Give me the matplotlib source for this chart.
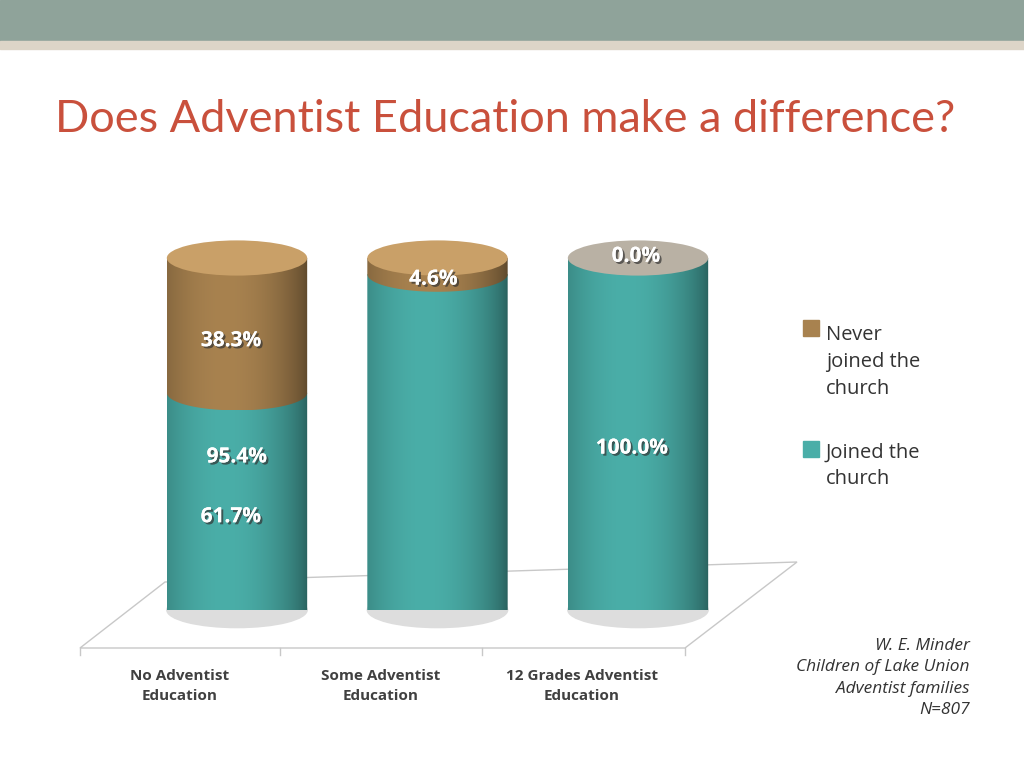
import numpy as np
import matplotlib
matplotlib.use("Agg")
import matplotlib.pyplot as plt
from matplotlib.patches import Ellipse, Rectangle, Polygon
import matplotlib.patheffects as pe

categories = ["No Adventist\nEducation", "Some Adventist\nEducation", "12 Grades Adventist\nEducation"]
joined = [61.7, 95.4, 100.0]
never = [38.3, 4.6, 0.0]
series_names = ["Never\njoined the\nchurch", "Joined the\nchurch"]

TEAL = "#4aaea8"
TEAL_TOP = "#7cc7c1"
BROWN = "#a8824f"
BROWN_TOP = "#c9a068"
FONT = "Open Sans"

fig = plt.figure(figsize=(10.24, 7.68), dpi=100, facecolor="white")

# background decoration in pixel coords
bg = fig.add_axes([0, 0, 1, 1])
bg.set_xlim(0, 1024); bg.set_ylim(768, 0); bg.axis("off")
bg.add_patch(Rectangle((0, 0), 1024, 41, color="#8fa39a"))
bg.add_patch(Rectangle((0, 41), 1024, 8, color="#ddd5c8"))
bg.text(55, 120, "Does Adventist Education make a difference?", color="#c9503c",
        fontsize=32.5, family="Lato", va="center")
# floor
bg.add_patch(Polygon([(80, 648), (685, 648), (797, 562), (165, 582)], closed=True,
                     facecolor="white", edgecolor="#c8c8c8", lw=1))
for x in [80, 280, 482, 685]:
    bg.plot([x, x], [648, 655], color="#c8c8c8", lw=1)
for i, c in enumerate(categories):
    bg.text(180 + 201 * i, 686, c, ha="center", va="center", fontsize=11,
            fontweight="bold", color="#404040", family=FONT, linespacing=1.5)

# legend
bg.add_patch(Rectangle((803, 320), 16, 16, color=BROWN))
bg.add_patch(Rectangle((803, 441), 16, 16, color=TEAL))
bg.text(826, 362, series_names[0], va="center", fontsize=14.5, color="#333333",
        family=FONT, linespacing=1.45)
bg.text(826, 466, series_names[1], va="center", fontsize=14.5, color="#333333",
        family=FONT, linespacing=1.45)
bg.text(970, 678, "W. E. Minder\nChildren of Lake Union\nAdventist families\nN=807",
        ha="right", va="center", fontsize=12.5, style="italic", color="#333333",
        family=FONT, linespacing=1.45)

# chart axes: x=0 at px 237, y 0 at px 610, 100 at px 258
ax = fig.add_axes([80 / 1024, (768 - 610) / 768, 720 / 1024, 352 / 768])
ax.set_xlim(-0.783, 2.808); ax.set_ylim(0, 100)
ax.axis("off")
W = 0.70
EH = 10.0
shade = np.linspace(0, 1, 200)
shade = 0.55 + 0.45 * np.sin(np.pi * (0.15 + 0.85 * shade)) ** 0.7
for i in range(3):
    segs = [(0, joined[i], TEAL, TEAL_TOP), (joined[i], joined[i] + never[i], BROWN, BROWN_TOP)]
    ax.add_patch(Ellipse((i, 0), W, EH, color="#dddddd", zorder=1, clip_on=False))
    for y0, y1, col, topc in segs:
        if y1 - y0 <= 0:
            continue
        rgb = np.array(matplotlib.colors.to_rgb(col))
        img = (shade[None, :, None] * rgb[None, None, :]).clip(0, 1)
        im = ax.imshow(img, extent=[i - W / 2, i + W / 2, y0 - EH / 2, y1], aspect="auto", zorder=3)
        clip = Polygon(np.vstack([
            [[i - W / 2, y1]],
            [[i + W / 2 * np.cos(t), y0 + EH / 2 * np.sin(t)] for t in np.linspace(np.pi, 2 * np.pi, 60)],
            [[i + W / 2, y1]]]), transform=ax.transData)
        im.set_clip_path(clip)
        im.set_clip_on(True)
    top = joined[i] + never[i]
    tc = BROWN_TOP if never[i] > 0 else "#b9b1a4"
    ax.add_patch(Ellipse((i, top), W, EH, facecolor=tc, edgecolor="none", zorder=4, clip_on=False))
ax.set_xlim(-0.783, 2.808); ax.set_ylim(0, 100)

eff = [pe.withSimplePatchShadow(offset=(1.5, -1.5), shadow_rgbFace="#333333", alpha=0.7), pe.Normal()]
def lab(x, y, s):
    ax.text(x, y, s, ha="center", va="center", fontsize=15, fontweight="bold",
            color="white", family=FONT, zorder=6, path_effects=eff, clip_on=False)
lab(-0.03, 26.5, f"{joined[0]:.1f}%")
lab(0.0, 43.5, f"{joined[1]:.1f}%")
lab(1.97, 46, f"{joined[2]:.1f}%")
lab(-0.03, 76.5, f"{never[0]:.1f}%")
lab(0.98, 94, f"{never[1]:.1f}%")
lab(1.99, 100.5, f"{never[2]:.1f}%")

fig.savefig("out.png", dpi=100, facecolor="white")
